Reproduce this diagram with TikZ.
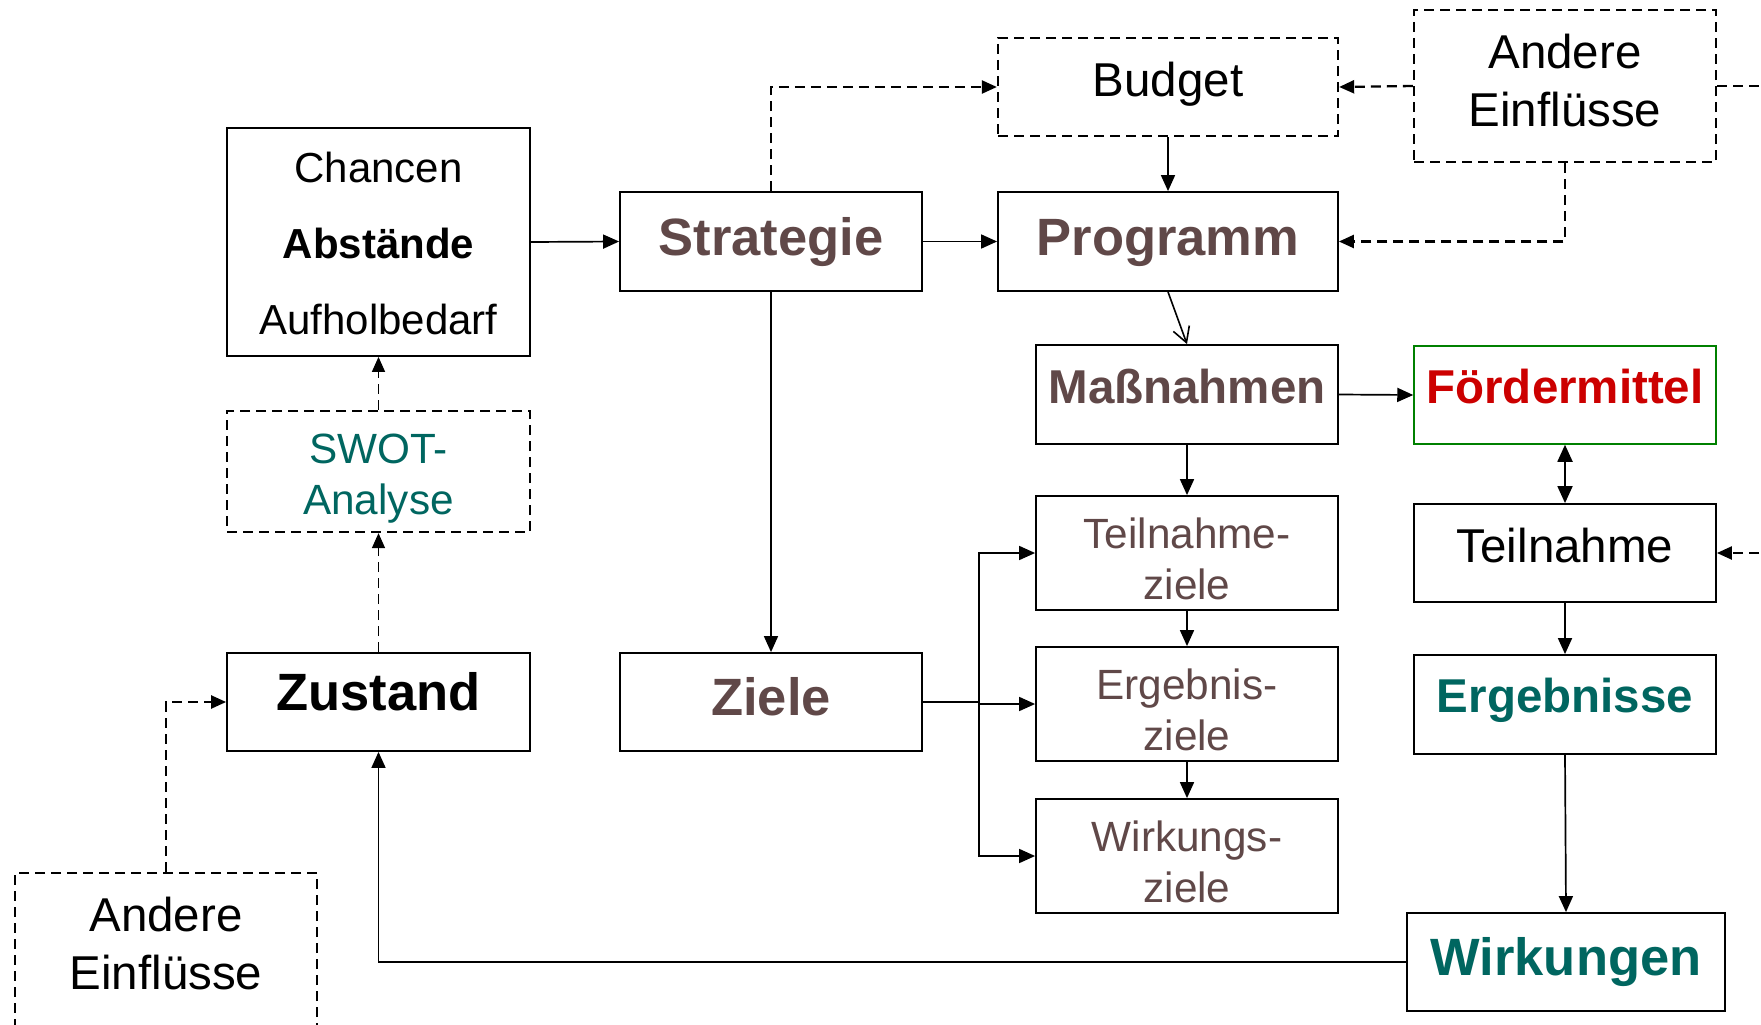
\documentclass[tikz,border=0pt]{standalone}
\usepackage{fontspec}
\setmainfont{Liberation Sans}
\usetikzlibrary{arrows.meta,calc}
\definecolor{brn}{RGB}{96,72,72}
\definecolor{tealc}{RGB}{0,102,96}
\definecolor{redc}{RGB}{204,0,0}
\definecolor{greenc}{RGB}{0,128,0}
\tikzset{
  box/.style={draw, line width=1.8pt, inner sep=0pt, align=center},
  dbox/.style={draw, line width=2.3pt, dash pattern=on 10pt off 6pt, inner sep=0pt, align=center},
  sz/.style 2 args={minimum width=#1pt, minimum height=#2pt},
  th/.style={text height=#1pt, text depth=0pt},
  fbig/.style={font=\fontsize{52.5}{60}\selectfont\bfseries},
  fmidb/.style={font=\fontsize{47.5}{56}\selectfont\bfseries},
  fmid/.style={font=\fontsize{47.5}{58}\selectfont},
  fsmall/.style={font=\fontsize{42.3}{50.5}\selectfont},
  conn/.style={line width=1.7pt, -{Triangle[length=16pt,width=14pt]}},
  dconn/.style={line width=2.3pt, dash pattern=on 10pt off 6pt, -{Triangle[length=15pt,width=13pt]}},
  dline/.style={line width=2.3pt, dash pattern=on 10pt off 6pt},
}
\begin{document}
\begin{tikzpicture}[x=1pt,y=-1pt]
\useasboundingbox (0,0) rectangle (1761,1025);
\clip (0,0) rectangle (1761,1025);
\fill[white] (0,0) rectangle (1761,1025);

% left column
\node[box, sz={303}{228}, th=184, font=\fontsize{42}{76}\selectfont] (chancen) at (378.5,242)
  {Chancen\\\textbf{Abstände}\\Aufholbedarf};
\node[dbox, sz={303}{121}, th=85, fsmall, text=tealc] (swot) at (378.5,471.5) {SWOT-\\Analyse};
\node[box, sz={303}{98}, th=16, fbig] (zustand) at (378.5,702) {Zustand};
\node[dbox, sz={302}{162}, th=70, fmid] (andereB) at (166,954) {Andere\\Einflüsse};

% second column
\node[box, sz={302}{99}, th=27, fbig, text=brn] (strategie) at (771,241.5) {Strategie};
\node[box, sz={302}{98}, th=26, fbig, text=brn] (ziele) at (771,702) {Ziele};

% third column
\node[dbox, sz={340}{98}, th=18, fmid] (budget) at (1168,87) {Budget};
\node[box, sz={340}{99}, th=27, fbig, text=brn] (programm) at (1168,241.5) {Programm};
\node[box, sz={302}{99}, th=17, fmidb, text=brn] (massnahmen) at (1187,394.5) {Maßnahmen};
\node[box, sz={302}{114}, th=92, fsmall, text=brn] (tziele) at (1187,553) {Teilnahme-\\ziele};
\node[box, sz={302}{114}, th=92, fsmall, text=brn] (eziele) at (1187,704) {Ergebnis-\\ziele};
\node[box, sz={302}{114}, th=92, fsmall, text=brn] (wziele) at (1187,856) {Wirkungs-\\ziele};

% right column
\node[dbox, sz={302}{152}, th=80, fmid] (andereT) at (1565,86) {Andere\\Einflüsse};
\node[draw=greenc, line width=1.5pt, inner sep=0pt, sz={302}{98}, th=16, fmidb, text=redc] (foerder) at (1565,395) {Fördermittel};
\node[box, sz={302}{98}, th=18, fmid] (teilnahme) at (1565,553) {Teilnahme};
\node[box, sz={302}{99}, th=15, fmidb, text=tealc] (ergebnisse) at (1565,704.5) {Ergebnisse};
\node[box, sz={318}{98}, th=26, fbig, text=tealc] (wirkungen) at (1566,962) {Wirkungen};

\coordinate (offA) at (1775,86);
\coordinate (offB) at (1775,553);
\coordinate (br) at (979,702);

% connectors
\draw[conn] (chancen.east) -- (strategie.west);
\draw[conn] (strategie.east) -- (programm.west);
\draw[dconn] (strategie.north) |- (budget.west);
\draw[dconn] (andereT.west) -- (budget.east);
\draw[dline] (andereT.east) -- (offA);
\draw[conn] (budget.south) -- (programm.north);
\draw[dconn] (andereT.south) |- (programm.east);
\draw[line width=1.6pt, -{Straight Barb[length=15pt,width=17pt]}] (programm.south) -- (massnahmen.north);
\draw[conn] (massnahmen.east) -- (foerder.west);
\draw[conn] (massnahmen.south) -- (tziele.north);
\draw[line width=1.8pt, {Triangle[length=17pt,width=15pt]}-{Triangle[length=17pt,width=15pt]}] (foerder.south) -- (teilnahme.north);
\draw[dconn] (offB) -- (teilnahme.east);
\draw[conn] (teilnahme.south) -- (ergebnisse.north);
\draw[conn] (ergebnisse.south) -- (wirkungen.north);
\draw[conn] (wirkungen.west) -| (zustand.south);
\draw[conn] (strategie.south) -- (ziele.north);
\draw[line width=1.7pt] (ziele.east) -- (br);
\draw[conn] (br) |- (tziele.west);
\draw[conn] (br |- eziele.west) -- (eziele.west);
\draw[conn] (br) |- (wziele.west);
\draw[conn] (tziele.south) -- (eziele.north);
\draw[conn] (eziele.south) -- (wziele.north);
\draw[dconn, line width=1.5pt] (zustand.north) -- (swot.south);
\draw[dconn, line width=1.5pt] (swot.north) -- (chancen.south);
\draw[dconn] (andereB.north) |- (zustand.west);
\end{tikzpicture}
\end{document}
